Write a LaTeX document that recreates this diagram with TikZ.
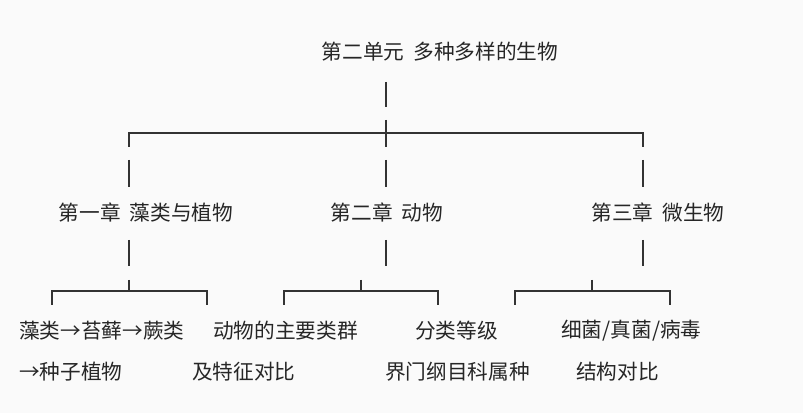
\documentclass[tikz,border=0pt]{standalone}
\usepackage{fontspec}
\setmainfont{Noto Sans CJK SC}
\usetikzlibrary{positioning}

\begin{document}
\begin{tikzpicture}[
    x=0.75pt, y=-0.75pt,
    label/.style={font=\fontsize{15.5}{18}\selectfont, inner sep=0pt, text=black!85},
    leaf/.style={label, anchor=west},
    stem/.style={line width=0.9pt, black!80}
]
\fill[gray!4] (0,0) rectangle (803,413);
\useasboundingbox (0,0) rectangle (803,413);

% Title
\node[label] (unit) at (440,52) {第二单元\ \ 多种多样的生物};

% Chapters
\node[label] (ch1) at (146,213) {第一章\ \ 藻类与植物};
\node[label] (ch2) at (387,213) {第二章\ \ 动物};
\node[label] (ch3) at (658,213) {第三章\ \ 微生物};

% Leaves
\node[leaf] (a1) at (19,331) {藻类→苔藓→蕨类};
\node[leaf] (a2) at (19,372) {→种子植物};
\node[leaf] (b1) at (213,331) {动物的主要类群};
\node[leaf] (b2) at (192,372) {及特征对比};
\node[leaf] (c1) at (415,331) {分类等级};
\node[leaf] (c2) at (385,372) {界门纲目科属种};
\node[leaf] (d1) at (561,331) {细菌/真菌/病毒};
\node[leaf] (d2) at (576,372) {结构对比};

% Top bracket
\coordinate (top) at (386,133);
\coordinate (tl) at (129,133);
\coordinate (tr) at (643,133);
\draw[stem] (386,82) -- (386,107);
\draw[stem] (386,120) -- (top);
\draw[stem] (tl) ++(0,14) -- (tl) -- (tr) -- ++(0,14);
\draw[stem] (top) -- ++(0,14);
\foreach \x in {129,386,643} {
    \draw[stem] (\x,160) -- (\x,187);
    \draw[stem] (\x,240) -- (\x,266);
}

% Lower brackets
\foreach \l/\m/\r in {52/129/207, 284/361/438, 515/592/670} {
    \draw[stem] (\l,305) -- (\l,291) -- (\r,291) -- (\r,305);
    \draw[stem] (\m,280) -- (\m,291);
}
\end{tikzpicture}
\end{document}
